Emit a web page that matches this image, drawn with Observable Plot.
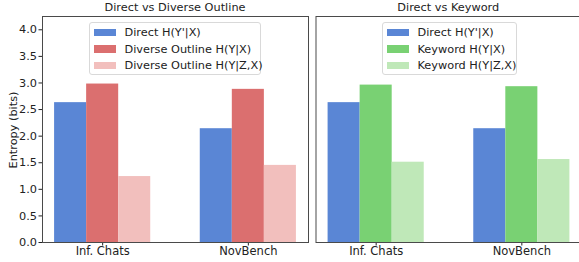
<!DOCTYPE html>
<html>
<head>
<meta charset="utf-8">
<script src="https://cdn.jsdelivr.net/npm/d3@7"></script>
<script src="https://cdn.jsdelivr.net/npm/@observablehq/plot@0.6"></script>
<style>
  html, body { margin: 0; padding: 0; background: #fff; }
  #wrap { position: relative; width: 579px; height: 262px; overflow: hidden; font-family: "DejaVu Sans", sans-serif; color: #222; }
  .panel { position: absolute; top: 0; }
  .title { position: absolute; top: 0px; font-size: 11.3px; line-height: 16px; text-align: center; white-space: nowrap; }
  .ylabel { position: absolute; left: 13px; top: 130px; font-size: 11.3px; transform: translate(-50%, -50%) rotate(-90deg); white-space: nowrap; }
  .legend { position: absolute; top: 22px; height: 53px; box-sizing: border-box; border: 1px solid #d9d9d9; border-radius: 3px; background: rgba(255,255,255,0.8); padding: 1px 4px 0 4px; font-size: 11.3px; }
  .legend .row { display: flex; align-items: center; height: 16.7px; white-space: nowrap; }
  .legend .sw { width: 22px; height: 7.5px; margin-right: 8.5px; flex: none; }
</style>
</head>
<body>
<div id="wrap"></div>
<script>
const categories = ["Inf. Chats", "NovBench"];
const directValues = [2.63, 2.14];
const outlineHYX = [2.98, 2.88];
const outlineHYZX = [1.24, 1.45];
const keywordHYX = [2.96, 2.93];
const keywordHYZX = [1.51, 1.56];
const yTicks = [0, 0.5, 1, 1.5, 2, 2.5, 3, 3.5, 4];

const panels = [
  {
    title: "Direct vs Diverse Outline",
    series: [
      {name: "Direct H(Y'|X)", values: directValues, color: "#5a86d5"},
      {name: "Diverse Outline H(Y|X)", values: outlineHYX, color: "#db6f6f"},
      {name: "Diverse Outline H(Y|Z,X)", values: outlineHYZX, color: "#f2bfbd"}
    ],
    left: 0, width: 310, marginLeft: 42, marginRight: 2, showY: true,
    legendLeft: 89, legendWidth: 172
  },
  {
    title: "Direct vs Keyword",
    series: [
      {name: "Direct H(Y'|X)", values: directValues, color: "#5a86d5"},
      {name: "Keyword H(Y|X)", values: keywordHYX, color: "#79d173"},
      {name: "Keyword H(Y|Z,X)", values: keywordHYZX, color: "#bfe8b8"}
    ],
    left: 308, width: 275, marginLeft: 7.5, marginRight: 1.5, showY: false,
    legendLeft: 382, legendWidth: 135
  }
];

const barW = 0.22;
const wrap = document.getElementById("wrap");

for (const p of panels) {
  const rows = [];
  p.series.forEach((s, si) => {
    categories.forEach((c, ci) => {
      const x1 = ci + (si - 1) * barW - barW / 2;
      rows.push({series: s.name, cat: c, x1, x2: x1 + barW, value: s.values[ci]});
    });
  });
  const chart = Plot.plot({
    width: p.width,
    height: 262,
    marginLeft: p.marginLeft,
    marginRight: p.marginRight,
    marginTop: 16,
    marginBottom: 20,
    style: {fontFamily: "DejaVu Sans, sans-serif", color: "#222", background: "transparent"},
    x: {domain: [-0.413, 1.413], axis: null},
    y: {domain: [0, 4.25], axis: null},
    color: {domain: p.series.map(s => s.name), range: p.series.map(s => s.color)},
    marks: [
      Plot.rect(rows, {x1: "x1", x2: "x2", y1: 0, y2: "value", fill: "series"}),
      Plot.axisX({ticks: [0, 1], tickFormat: i => categories[i], tickSize: 3.5, tickPadding: 1, label: null, fontSize: 11.5}),
      p.showY ? Plot.axisY({ticks: yTicks, tickFormat: d3.format(".1f"), tickSize: 3.5, tickPadding: 2, label: null, fontSize: 11.3}) : null,
      Plot.frame({stroke: "#4a4a4a", strokeWidth: 1})
    ]
  });
  chart.classList.add("panel");
  chart.style.left = p.left + "px";
  wrap.appendChild(chart);

  const frameLeft = p.left + p.marginLeft;
  const frameRight = p.left + p.width - p.marginRight;
  const t = document.createElement("div");
  t.className = "title";
  t.textContent = p.title;
  t.style.left = frameLeft + "px";
  t.style.width = (Math.min(frameRight, 579) - frameLeft + (p.left > 0 ? 2 : 0)) + "px";
  wrap.appendChild(t);

  const lg = document.createElement("div");
  lg.className = "legend";
  lg.style.left = p.legendLeft + "px";
  lg.style.width = p.legendWidth + "px";
  for (const s of p.series) {
    const r = document.createElement("div");
    r.className = "row";
    const sw = document.createElement("span");
    sw.className = "sw";
    sw.style.background = s.color;
    const tx = document.createElement("span");
    tx.textContent = s.name;
    r.appendChild(sw); r.appendChild(tx);
    lg.appendChild(r);
  }
  wrap.appendChild(lg);
}

const yl = document.createElement("div");
yl.className = "ylabel";
yl.textContent = "Entropy (bits)";
wrap.appendChild(yl);
</script>
</body>
</html>
